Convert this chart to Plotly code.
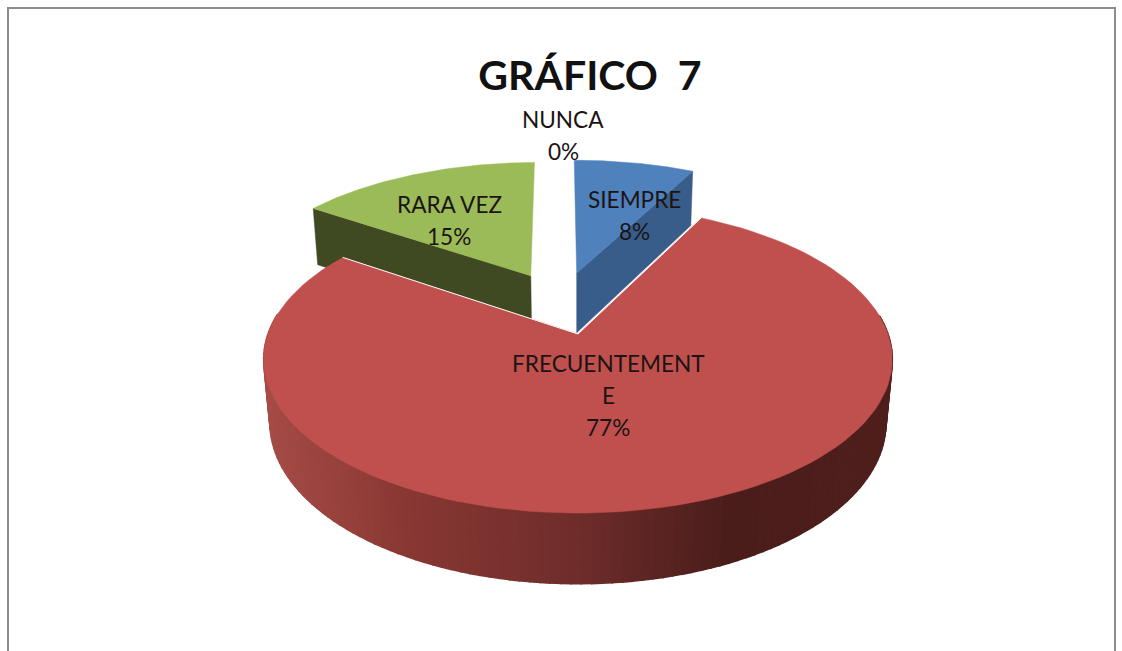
import numpy as np
import plotly.graph_objects as go

# ---- data -------------------------------------------------------------
TITLE = "GRÁFICO\u00a0\u00a07"
categories = ["SIEMPRE", "FRECUENTEMENTE", "RARA VEZ", "NUNCA"]
values = [1, 10, 2, 0]
top_colors = ["#4f81bd", "#c0504d", "#9bbb59", "#ffffff"]
side_colors = ["#385d8a", "#6e2d2b", "#3f4a22", "#ffffff"]
# label centre (pixels on the page axes) of each category's first line
label_pos = {"SIEMPRE": (634, 199), "FRECUENTEMENTE": (608, 363),
             "RARA VEZ": (449, 204), "NUNCA": (563, 119)}

# ---- projection of the tilted pie onto the page -------------------------
W, H = 1122, 651
CX, CY, RX, RY = 578.0, 334.0, 310.0, 149.5
K, DEPTH, Q = 0.165, 64.0, 0.02
EXPLODE = 0.225
ROTATION = np.radians(-0.6)


def project(X, Y, Z=0.0):
    w = 1 - K * np.asarray(Y, float) + Q * Z
    return CX + RX * np.asarray(X, float) / w, CY + (RY * np.asarray(Y, float) + DEPTH * Z) / w


total = sum(values)
fractions = np.array(values, float) / total
ends = np.cumsum(fractions) * 2 * np.pi + ROTATION
starts = ends - fractions * 2 * np.pi
mids = (starts + ends) / 2
ref = categories.index("FRECUENTEMENTE")
off_x = EXPLODE * (np.sin(mids) - np.sin(mids[ref]))
off_y = EXPLODE * (-np.cos(mids) + np.cos(mids[ref]))


def arc(i, n=120):
    t = np.linspace(starts[i], ends[i], n)
    return np.sin(t) + off_x[i], -np.cos(t) + off_y[i]


fig = go.Figure()


def poly(x, y, color, lw=0.5):
    fig.add_trace(go.Scatter(x=list(x), y=list(y), mode="lines", fill="toself",
                             fillcolor=color, line=dict(color=color, width=lw),
                             hoverinfo="skip", showlegend=False))


def top_face(i):
    ax, ay = arc(i)
    x, y = project(np.r_[off_x[i], ax, off_x[i]], np.r_[off_y[i], ay, off_y[i]])
    poly(x, y, top_colors[i])


def radial_wall(i, at_end):
    t = ends[i] if at_end else starts[i]
    ox, oy = off_x[i], off_y[i]
    ex, ey = np.sin(t) + ox, -np.cos(t) + oy
    x0, y0 = project([ox, ex], [oy, ey], 0.0)
    x1, y1 = project([ex, ox], [ey, oy], 1.0)
    poly(np.r_[x0, x1, x0[0]], np.r_[y0, y1, y0[0]], side_colors[i])


# the back slices first, then the large front slice over them
green, blue, red = categories.index("RARA VEZ"), categories.index("SIEMPRE"), ref
radial_wall(green, at_end=False)
top_face(green)
radial_wall(blue, at_end=True)
top_face(blue)

# rim of the front slice, shaded from the light left to the dark right
stops_x = [265, 400, 580, 730, 893]
stops_rgb = np.array([[166, 76, 71], [138, 56, 52], [110, 45, 43], [74, 29, 27], [80, 32, 29]], float)
t_rim = np.linspace(starts[red], ends[red], 170)
rx_, ry_ = np.sin(t_rim) + off_x[red], -np.cos(t_rim) + off_y[red]
xt, yt = project(rx_, ry_, 0.0)
xb, yb = project(rx_, ry_, 1.0)
for j in range(len(t_rim) - 1):
    if ry_[j] < -0.12 and ry_[j + 1] < -0.12:
        continue
    rgb = [np.interp((xt[j] + xt[j + 1]) / 2, stops_x, stops_rgb[:, c]) for c in range(3)]
    col = "rgb(%d,%d,%d)" % tuple(rgb)
    poly([xt[j], xt[j + 1], xb[j + 1], xb[j], xt[j]],
         [yt[j], yt[j + 1], yb[j + 1], yb[j], yt[j]], col, lw=1.6)
top_face(red)

# thin white edge along the two straight sides of the front slice
ax, ay = arc(red, 2)
ex, ey = project([ax[0], off_x[red], ax[-1]], [ay[0], off_y[red], ay[-1]])
fig.add_trace(go.Scatter(x=list(ex), y=list(ey), mode="lines", line=dict(color="#ffffff", width=1.0),
                         hoverinfo="skip", showlegend=False))

# ---- labels --------------------------------------------------------------
LINE_GAP = 32
WRAP = 13
for name, frac in zip(categories, fractions):
    parts = [name[i:i + WRAP] for i in range(0, len(name), WRAP)] + ["%d%%" % round(frac * 100)]
    lx, ly = label_pos[name]
    for n, part in enumerate(parts):
        fig.add_annotation(x=lx, y=ly + n * LINE_GAP, text=part, showarrow=False,
                           xanchor="center", yanchor="middle",
                           font=dict(family="Lato, sans-serif", size=22.6, color="#1c1414"))

fig.update_layout(
    width=W, height=H, margin=dict(l=0, r=0, t=0, b=0),
    paper_bgcolor="#ffffff", plot_bgcolor="#ffffff", showlegend=False,
    title=dict(text="<b>%s</b>" % TITLE, x=590 / W, xanchor="center", y=1 - 76 / H, yanchor="middle",
               font=dict(family="Lato, sans-serif", size=41, color="#111111")),
    xaxis=dict(range=[0, W], visible=False, fixedrange=True),
    yaxis=dict(range=[H, 0], visible=False, fixedrange=True),
    shapes=[dict(type="rect", xref="x", yref="y", x0=8, y0=8, x1=1115, y1=H + 20,
                 line=dict(color="#8c8c8c", width=2), layer="below")],
)
fig.write_html("out.html", config={"displayModeBar": False},
               post_script="document.body.style.margin='0';document.body.style.overflow='hidden';")
